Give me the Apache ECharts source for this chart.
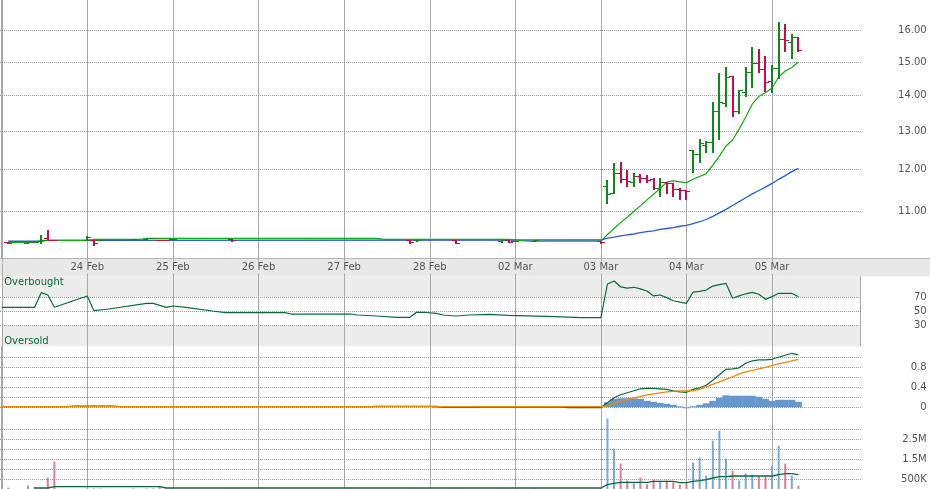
<!DOCTYPE html>
<html><head><meta charset="utf-8">
<script src="https://cdn.jsdelivr.net/npm/echarts@6/dist/echarts.min.js"></script>
<style>html,body{margin:0;padding:0;background:#fff}#c{width:930px;height:489px}</style>
</head><body><div id="c"></div>
<script>
// ---------- DATA ----------
// x unit = one 30-minute bar slot, 13 slots per trading day
const SLOTS_PER_DAY = 13;
const dayLabels = ['', '24 Feb', '25 Feb', '26 Feb', '27 Feb', '28 Feb', '02 Mar', '03 Mar', '04 Mar', '05 Mar', ''];

// OHLC bars: [slot, open, high, low, close]
const ohlc = [
  [1, 10.32, 10.32, 10.30, 10.30], [4, 10.30, 10.31, 10.30, 10.31], [5, 10.31, 10.32, 10.31, 10.32],
  [6, 10.33, 10.47, 10.30, 10.37], [7, 10.40, 10.58, 10.36, 10.36], [8, 10.36, 10.36, 10.35, 10.35],
  [13, 10.36, 10.45, 10.36, 10.43], [14, 10.37, 10.37, 10.26, 10.30], [15, 10.35, 10.35, 10.35, 10.35],
  [20, 10.38, 10.39, 10.38, 10.39], [22, 10.39, 10.40, 10.38, 10.40], [23, 10.41, 10.41, 10.40, 10.41],
  [24, 10.37, 10.37, 10.36, 10.37], [25, 10.37, 10.37, 10.36, 10.36], [26, 10.38, 10.38, 10.38, 10.38],
  [35, 10.38, 10.38, 10.33, 10.35], [62, 10.36, 10.36, 10.30, 10.31], [63, 10.35, 10.35, 10.34, 10.35],
  [69, 10.36, 10.36, 10.29, 10.30], [76, 10.33, 10.36, 10.32, 10.35], [77, 10.35, 10.35, 10.31, 10.32],
  [78, 10.34, 10.34, 10.33, 10.34], [81, 10.34, 10.35, 10.33, 10.35], [91, 10.34, 10.34, 10.30, 10.31],
  [92, 11.60, 11.73, 11.18, 11.40], [93, 11.41, 12.15, 11.41, 11.90], [94, 11.90, 12.18, 11.69, 11.75],
  [95, 11.75, 11.98, 11.60, 11.72], [96, 11.69, 11.90, 11.60, 11.83], [97, 11.83, 11.87, 11.69, 11.77],
  [98, 11.79, 11.86, 11.68, 11.73], [99, 11.75, 11.77, 11.51, 11.53], [100, 11.53, 11.77, 11.35, 11.69],
  [101, 11.69, 11.69, 11.43, 11.65], [102, 11.65, 11.66, 11.36, 11.51], [103, 11.51, 11.55, 11.28, 11.49],
  [104, 11.49, 11.49, 11.28, 11.48],
  [105, 12.49, 12.49, 11.94, 12.38], [106, 12.38, 12.77, 12.19, 12.68], [107, 12.62, 12.72, 12.43, 12.70],
  [108, 12.70, 13.79, 12.44, 13.55], [109, 13.55, 14.65, 12.77, 13.79], [110, 13.76, 14.84, 13.68, 14.53],
  [111, 14.55, 14.57, 13.41, 13.53], [112, 13.55, 14.15, 13.48, 14.14], [113, 14.07, 14.84, 13.98, 14.69],
  [114, 14.69, 15.46, 14.24, 14.97], [115, 14.97, 15.41, 14.67, 14.77], [116, 14.77, 15.18, 14.11, 14.39],
  [117, 14.40, 14.89, 14.07, 14.79],
  [118, 14.79, 16.29, 14.49, 15.72], [119, 15.72, 16.23, 15.33, 15.69], [120, 15.61, 15.87, 15.12, 15.79],
  [121, 15.79, 15.79, 15.32, 15.36]
];

// short moving average (green) [slot, value]
const maShort = [
  [1, 10.31], [5, 10.31], [6, 10.35], [13, 10.354], [14, 10.375], [21, 10.375], [22, 10.397], [57, 10.397],
  [58, 10.375], [77, 10.375], [80, 10.333], [91, 10.333],
  [92, 10.48], [93, 10.61], [94, 10.74], [95, 10.86], [96, 10.99], [97, 11.12], [98, 11.26], [99, 11.39],
  [100, 11.53], [101, 11.68], [102, 11.71], [103, 11.69], [104, 11.67], [105, 11.75], [106, 11.82],
  [107, 11.89], [108, 12.10], [109, 12.33], [110, 12.59], [111, 12.75], [112, 13.04], [113, 13.37],
  [114, 13.74], [115, 13.95], [116, 14.07], [117, 14.20], [118, 14.53], [119, 14.71], [120, 14.82], [121, 14.99]
];

// long moving average (blue) [slot, value]
const maLong = [
  [1, 10.333], [6, 10.333], [7, 10.354], [91, 10.36],
  [92, 10.40], [93, 10.42], [94, 10.45], [95, 10.47], [96, 10.49], [97, 10.52], [98, 10.54], [99, 10.56],
  [100, 10.59], [101, 10.61], [102, 10.63], [103, 10.66], [104, 10.68], [105, 10.72], [106, 10.76],
  [107, 10.81], [108, 10.88], [109, 10.96], [110, 11.04], [111, 11.13], [112, 11.22], [113, 11.31],
  [114, 11.40], [115, 11.48], [116, 11.56], [117, 11.65], [118, 11.75], [119, 11.84], [120, 11.94], [121, 12.02]
];

// RSI [slot, value]
const rsi = [
  [0, 55.7], [5, 55.7], [6, 76.6], [7, 73.3], [8, 55.7], [13, 71.9], [14, 50.9], [16, 52.9], [22, 61.4],
  [23, 61.4], [25, 55.7], [26, 57.6], [28, 55.7], [32, 50.4], [34, 48], [43, 48], [44, 46.1], [53, 46.1],
  [54, 44.7], [57, 43.3], [60, 41.4], [62, 41.4], [63, 48.6], [64, 48.6], [66, 47.1], [67, 44.7],
  [69, 43.3], [71, 44.7], [74, 45.7], [77, 44.3], [84, 42.3], [88, 40.9], [91, 40.9],
  [92, 89], [93, 93.3], [94, 85], [95, 83], [96, 84.3], [97, 82], [98, 79], [99, 72], [100, 73.3],
  [101, 69.5], [102, 65.1], [103, 63], [104, 61.4], [105, 77.5], [106, 78.5], [107, 80.4], [108, 86],
  [109, 88], [110, 90], [111, 68.6], [112, 72], [113, 75], [114, 77], [115, 74.3], [116, 67.1],
  [117, 70.9], [118, 75.7], [119, 75.7], [120, 75.7], [121, 70.9]
];

// MACD line (green) [slot, value]
const macdLine = [
  [0, 0.012], [10, 0.012], [11, 0.026], [17, 0.026], [18, 0.012], [56, 0.012], [57, 0.018], [66, 0.018],
  [67, 0.004], [85, 0.004], [86, -0.008], [91, -0.005],
  [92, 0.09], [93, 0.19], [94, 0.25], [95, 0.29], [96, 0.33], [97, 0.37], [98, 0.38], [99, 0.38],
  [100, 0.37], [101, 0.36], [102, 0.33], [103, 0.31], [104, 0.30], [105, 0.36], [106, 0.39], [107, 0.44],
  [108, 0.54], [109, 0.65], [110, 0.76], [111, 0.77], [112, 0.79], [113, 0.88], [114, 0.93], [115, 0.95],
  [116, 0.95], [117, 0.96], [118, 1.00], [119, 1.04], [120, 1.08], [121, 1.05]
];

// MACD signal (orange) [slot, value]
const macdSignal = [
  [0, 0.012], [91, 0.012],
  [92, 0.03], [93, 0.08], [94, 0.12], [95, 0.16], [96, 0.19], [97, 0.22], [98, 0.25], [99, 0.27],
  [100, 0.29], [101, 0.31], [102, 0.32], [103, 0.33], [104, 0.33], [105, 0.33], [106, 0.36], [107, 0.41],
  [108, 0.46], [109, 0.51], [110, 0.56], [111, 0.61], [112, 0.67], [113, 0.71], [114, 0.74], [115, 0.77],
  [116, 0.80], [117, 0.84], [118, 0.87], [119, 0.90], [120, 0.93], [121, 0.96]
];

// MACD histogram (blue area) [slot, value]
const macdHist = [
  [66, -0.015], [67, -0.015], [68, -0.015], [69, -0.015], [70, -0.015], [71, -0.015], [72, -0.015],
  [92, 0.10], [93, 0.17], [94, 0.18], [95, 0.18], [96, 0.18], [97, 0.17], [98, 0.13], [99, 0.11],
  [100, 0.09], [101, 0.07], [102, 0.05], [103, 0.02], [104, -0.02], [105, 0.02], [106, 0.05], [107, 0.08],
  [108, 0.13], [109, 0.19], [110, 0.24], [111, 0.23], [112, 0.23], [113, 0.23], [114, 0.23], [115, 0.21],
  [116, 0.17], [117, 0.13], [118, 0.15], [119, 0.15], [120, 0.15], [121, 0.11]
];

// volume [slot, shares]
const volume = [
  [1, 70000], [4, 170000], [5, 120000], [6, 30000], [7, 570000], [8, 1370000], [13, 30000], [14, 30000],
  [15, 30000], [20, 30000], [22, 30000], [23, 30000], [24, 100000], [25, 30000], [26, 30000], [35, 30000],
  [62, 30000], [63, 30000], [69, 30000], [76, 30000], [77, 30000], [78, 30000], [81, 30000], [91, 50000],
  [92, 3520000], [93, 2020000], [94, 1270000], [95, 420000], [96, 280000], [97, 570000], [98, 230000],
  [99, 470000], [100, 370000], [101, 420000], [102, 330000], [103, 220000], [104, 280000],
  [105, 1320000], [106, 1570000], [107, 670000], [108, 2420000], [109, 2920000], [110, 1520000],
  [111, 920000], [112, 420000], [113, 770000], [114, 720000], [115, 630000], [116, 630000], [117, 1170000],
  [118, 2170000], [119, 1270000], [120, 670000], [121, 170000]
];

// volume moving average [slot, shares]
const volumeMA = [
  [5, 50000], [7, 50000], [8, 115000], [24, 115000], [25, 50000], [91, 50000],
  [92, 215000], [93, 280000], [94, 330000], [98, 330000], [99, 380000], [102, 380000], [103, 315000],
  [104, 315000], [105, 380000], [106, 415000], [107, 470000], [108, 550000], [109, 615000], [110, 615000],
  [111, 650000], [117, 650000], [118, 715000], [119, 765000], [120, 765000], [121, 715000]
];

const dayStarts = [0, 1, 2, 3, 4, 5, 6, 7, 8, 9];
const priceTicks = [11, 12, 13, 14, 15, 16];
const priceTickLabels = ['11.00', '12.00', '13.00', '14.00', '15.00', '16.00'];
const rsiTicks = [70, 50, 30];
const rsiTickLabels = ['70', '50', '30'];
const macdTicks = [0, 0.2, 0.4, 0.6, 0.8, 1.0];
const macdTickLabels = ['0', '', '0.4', '', '0.8', ''];
const volTicks = [500000, 1000000, 1500000, 2000000, 2500000, 3000000];
const volTickLabels = ['500K', '', '1.5M', '', '2.5M', ''];

// ---------- STYLE ----------
const UP = '#10891a', DOWN = '#cc0a45';
const VOL_UP = '#7ba7d7', VOL_DOWN = '#e07a9a';
const FONT = 'DejaVu Sans';
const SLOT_MAX = 130.46;
const VLINE = '#a8a8a8';

let prev = null;
const upBySlot = {};
const ohlcData = ohlc.map(b => {
  const up = prev === null ? b[4] >= b[1] : b[4] >= prev;
  prev = b[4];
  upBySlot[b[0]] = up;
  return [b[0], b[1], b[2], b[3], b[4], up ? 1 : 0];
});

function renderOHLC(params, api) {
  const s = api.value(0);
  const pO = api.coord([s, api.value(1)]);
  const pH = api.coord([s, api.value(2)]);
  const pL = api.coord([s, api.value(3)]);
  const pC = api.coord([s, api.value(4)]);
  const color = api.value(5) ? UP : DOWN;
  const x = Math.round(pH[0]);
  const yO = Math.round(pO[1]) + 0.5, yC = Math.round(pC[1]) + 0.5;
  return { type: 'group', children: [
    { type: 'line', shape: { x1: x, y1: Math.round(pH[1]), x2: x, y2: Math.round(pL[1]) + 1 }, style: { stroke: color, lineWidth: 2 } },
    { type: 'line', shape: { x1: x - 4, y1: yO, x2: x, y2: yO }, style: { stroke: color, lineWidth: 1 } },
    { type: 'line', shape: { x1: x, y1: yC, x2: x + 4, y2: yC }, style: { stroke: color, lineWidth: 1 } }
  ]};
}

// horizontal dotted grid lines + right-hand labels
function gridSeries(idx, ticks, labels) {
  return {
    type: 'custom', xAxisIndex: idx, yAxisIndex: idx, z: 2, silent: true, clip: false,
    encode: { x: 0, y: 1 },
    data: ticks.map((v, i) => [0, v, i]),
    renderItem: function (params, api) {
      const cs = params.coordSys;
      const y = Math.round(api.coord([0, api.value(1)])[1]) + 0.5;
      const lbl = labels[api.value(2)];
      const children = [{ type: 'line', shape: { x1: 0, y1: y, x2: cs.x + cs.width, y2: y },
        style: { stroke: '#9a9a9a', lineWidth: 1, lineDash: [1, 1] } }];
      if (lbl) children.push({ type: 'text', x: cs.x + cs.width + 66, y: y,
        style: { text: lbl, fill: '#555', font: '10px "' + FONT + '"', align: 'right', verticalAlign: 'middle' } });
      return { type: 'group', children: children };
    }
  };
}

// vertical day lines
function dayLineSeries(idx, borderFromValue) {
  const data = dayStarts.map(d => [d * SLOTS_PER_DAY, 0]);
  if (borderFromValue !== undefined) data.push([SLOT_MAX, 1]);
  return {
    type: 'custom', xAxisIndex: idx, yAxisIndex: idx, z: 2, silent: true, clip: false,
    encode: { x: 0 },
    data: data,
    renderItem: function (params, api) {
      const cs = params.coordSys;
      const isBorder = api.value(1) === 1;
      let x = Math.round(api.coord([api.value(0), borderFromValue || 0])[0]);
      if (isBorder) x = Math.round(cs.x + cs.width) - 1;
      const y1 = isBorder ? api.coord([0, borderFromValue])[1] : cs.y;
      return { type: 'line', shape: { x1: x + 0.5, y1: y1, x2: x + 0.5, y2: cs.y + cs.height },
        style: { stroke: VLINE, lineWidth: 1 } };
    }
  };
}

function xAx(idx, showLabel, z) {
  return {
    type: 'value', gridIndex: idx, min: 0, max: SLOT_MAX, interval: SLOTS_PER_DAY, z: z,
    axisLine: { show: false }, axisTick: { show: false },
    axisLabel: showLabel ? {
      show: true, color: '#555', fontSize: 10, fontFamily: FONT, margin: 3,
      backgroundColor: '#e8e8e8', padding: [1, 1],
      formatter: v => { const d = v / SLOTS_PER_DAY; return Number.isInteger(d) ? (dayLabels[d] || '') : ''; }
    } : { show: false },
    splitLine: { show: false }
  };
}
function yAx(idx, showLine, extra) {
  return Object.assign({
    gridIndex: idx, position: 'right', z: 2,
    axisLine: { show: showLine, lineStyle: { color: VLINE, width: 1 } },
    axisTick: { show: false }, axisLabel: { show: false }, splitLine: { show: false }
  }, extra);
}

const chart = echarts.init(document.getElementById('c'), null, { renderer: 'canvas' });
chart.setOption({
  animation: false,
  backgroundColor: '#fff',
  graphic: [
    { type: 'rect', z: 0, silent: true, shape: { x: 0, y: 258.5, width: 930, height: 17.8 }, style: { fill: '#e8e8e8' } },
    { type: 'line', z: 0, silent: true, shape: { x1: 0, y1: 258.5, x2: 930, y2: 258.5 }, style: { stroke: '#b4b4b4', lineWidth: 1 } }
  ],
  grid: [
    { left: 1.7, right: 69.3, top: 0, height: 258.5, outerBoundsMode: 'none' },
    { left: 1.7, right: 69.3, top: 259, height: 87.3, outerBoundsMode: 'none' },
    { left: 1.7, right: 69.3, top: 346.3, height: 66, outerBoundsMode: 'none' },
    { left: 1.7, right: 69.3, top: 408.3, height: 80.7, outerBoundsMode: 'none' }
  ],
  xAxis: [xAx(0, true, 3), xAx(1, false, 2), xAx(2, false, 2), xAx(3, false, 2)],
  yAxis: [
    yAx(0, true, { type: 'log', logBase: 10, min: 9.97, max: 17.045 }),
    yAx(1, false, { type: 'value', min: 0, max: 124.7 }),
    yAx(2, true, { type: 'value', min: -0.1, max: 1.22 }),
    yAx(3, true, { type: 'value', min: 0, max: 4035000 })
  ],
  series: [
    dayLineSeries(0), dayLineSeries(1, 100), dayLineSeries(2), dayLineSeries(3),
    gridSeries(0, priceTicks, priceTickLabels),
    gridSeries(1, rsiTicks, rsiTickLabels),
    gridSeries(2, macdTicks, macdTickLabels),
    gridSeries(3, volTicks, volTickLabels),
    { type: 'line', xAxisIndex: 0, yAxisIndex: 0, z: 4, data: maLong, showSymbol: false, symbol: 'none',
      lineStyle: { color: '#2658d8', width: 1.3 } },
    { type: 'line', xAxisIndex: 0, yAxisIndex: 0, z: 4, data: maShort, showSymbol: false, symbol: 'none',
      lineStyle: { color: '#0aae0a', width: 1.2 } },
    { type: 'custom', xAxisIndex: 0, yAxisIndex: 0, z: 5, data: ohlcData, encode: { x: 0, y: [1, 2, 3, 4] },
      renderItem: renderOHLC },
    { type: 'line', xAxisIndex: 1, yAxisIndex: 1, z: 4, data: rsi, showSymbol: false, symbol: 'none',
      lineStyle: { color: '#0b6a3a', width: 1.2 },
      markArea: {
        silent: true, itemStyle: { color: '#ececec' },
        label: { color: '#0b6a3a', fontSize: 10, fontFamily: FONT },
        data: [
          [{ yAxis: 70, name: 'Overbought', label: { position: [2.5, 1] } }, { yAxis: 100 }],
          [{ yAxis: 0, name: 'Oversold', label: { position: [2.5, 11] } }, { yAxis: 30 }]
        ]
      } },
    { type: 'bar', xAxisIndex: 2, yAxisIndex: 2, z: 4, barWidth: 7, data: macdHist,
      itemStyle: { color: '#6798cc' } },
    { type: 'line', xAxisIndex: 2, yAxisIndex: 2, z: 4, data: macdLine, showSymbol: false, symbol: 'none',
      lineStyle: { color: '#0b6a3a', width: 1.2 } },
    { type: 'line', xAxisIndex: 2, yAxisIndex: 2, z: 4, data: macdSignal, showSymbol: false, symbol: 'none',
      lineStyle: { color: '#f08a00', width: 1.3 } },
    { type: 'bar', xAxisIndex: 3, yAxisIndex: 3, z: 4, barWidth: 2,
      data: volume.map(([s, v]) => ({ value: [s, v], itemStyle: { color: upBySlot[s] === false ? VOL_DOWN : VOL_UP } })) },
    { type: 'line', xAxisIndex: 3, yAxisIndex: 3, z: 4, data: volumeMA, showSymbol: false, symbol: 'none',
      lineStyle: { color: '#0b6a3a', width: 1.3 } }
  ]
});
</script>
</body></html>
